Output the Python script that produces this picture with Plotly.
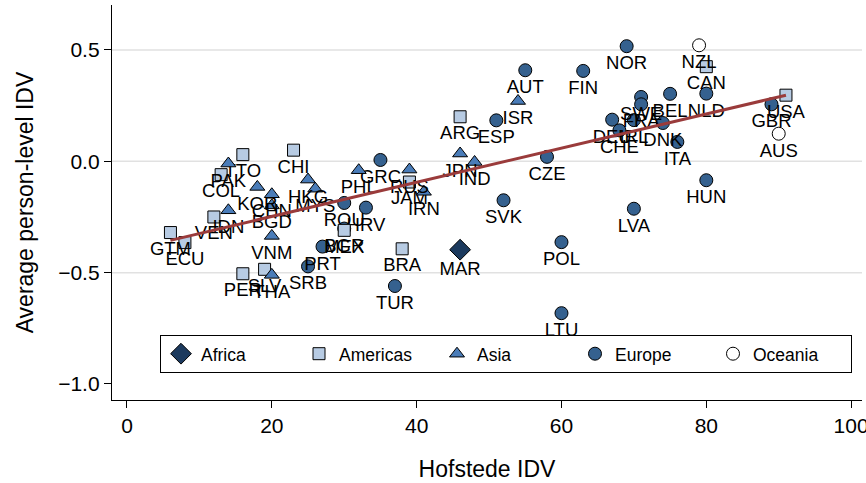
import plotly.graph_objects as go

# ---- data ----
africa_lbl = ["MAR"]
africa_x = [46]
africa_y = [-0.397]

americas_lbl = ["TTO", "CHI", "COL", "VEN", "GTM", "ECU", "PER", "SLV", "MEX", "JAM", "BRA", "ARG", "CAN", "USA"]
americas_x = [16, 23, 13, 12, 6, 8, 16, 19, 30, 39, 38, 46, 80, 91]
americas_y = [0.03, 0.05, -0.06, -0.25, -0.32, -0.365, -0.505, -0.485, -0.31, -0.093, -0.393, 0.20, 0.425, 0.297]

asia_lbl = ["PAK", "KOR", "CHN", "BGD", "IDN", "VNM", "THA", "HKG", "MYS", "PHL", "RUS", "IRN", "JPN", "IND", "ISR"]
asia_x = [14, 18, 20, 20, 14, 20, 20, 25, 26, 32, 39, 41, 46, 48, 54]
asia_y = [-0.01, -0.115, -0.148, -0.198, -0.22, -0.335, -0.51, -0.082, -0.123, -0.04, -0.037, -0.137, 0.035, -0.003, 0.271]

europe_lbl = ["SRB", "PRT", "BGR", "ROU", "HRV", "GRC", "TUR", "ESP", "AUT", "SVK", "CZE", "POL", "LTU", "FIN",
              "NOR", "LVA", "SWE", "FRA", "BEL", "NLD", "DEU", "IRL", "CHE", "DNK", "ITA", "HUN", "GBR"]
europe_x = [25, 27, 30, 30, 33, 35, 37, 51, 55, 52, 58, 60, 60, 63,
            69, 70, 71, 71, 75, 80, 67, 70, 68, 74, 76, 80, 89]
europe_y = [-0.472, -0.383, -0.302, -0.187, -0.208, 0.006, -0.56, 0.184, 0.409, -0.175, 0.02, -0.363, -0.682, 0.406,
            0.517, -0.213, 0.289, 0.256, 0.303, 0.304, 0.187, 0.185, 0.139, 0.172, 0.087, -0.085, 0.256]

oceania_lbl = ["NZL", "AUS"]
oceania_x = [79, 90]
oceania_y = [0.521, 0.124]

fit_x = [6, 91]
fit_y = [-0.355, 0.297]

grid_y = [-0.5, 0.0, 0.5]
y_ticks = [-1.0, -0.5, 0.0, 0.5]
x_ticks = [0, 20, 40, 60, 80, 100]

FONT = "Liberation Sans, Arial, sans-serif"
LBL_FONT = dict(family=FONT, size=18.5, color="black")

fig = go.Figure()

def add_group(name, xs, ys, lbls, symbol, fill, size, rank):
    fig.add_trace(go.Scatter(
        x=xs, y=ys, mode="markers+text", text=lbls, textposition="bottom center",
        textfont=LBL_FONT, name=name, legendrank=rank,
        marker=dict(symbol=symbol, color=fill, size=size, line=dict(color="black", width=1)),
    ))

add_group("Europe", europe_x, europe_y, europe_lbl, "circle", "#35618f", 13, 4)
add_group("Americas", americas_x, americas_y, americas_lbl, "square", "#b7cbe3", 12, 2)
add_group("Asia", asia_x, asia_y, asia_lbl, "triangle-up", "#4a7cb8", 13, 3)
add_group("Africa", africa_x, africa_y, africa_lbl, "diamond", "#1c3a5e", 16, 1)
add_group("Oceania", oceania_x, oceania_y, oceania_lbl, "circle", "white", 13, 5)

fig.add_trace(go.Scatter(x=fit_x, y=fit_y, mode="lines", showlegend=False,
                         line=dict(color="#9a3b3b", width=3), hoverinfo="skip"))

for gy in grid_y:
    fig.add_shape(type="line", xref="paper", x0=0, x1=1, yref="y", y0=gy, y1=gy,
                  line=dict(color="#e1e1e1", width=1.5), layer="below")

fig.update_layout(
    width=866, height=483,
    margin=dict(l=112, r=4, t=5, b=83, autoexpand=False),
    plot_bgcolor="white", paper_bgcolor="white",
    font=dict(family=FONT, size=18, color="black"),
    showlegend=True,
    legend=dict(
        orientation="h", x=0.064, xanchor="left", y=0.165, yanchor="top",
        bgcolor="white", bordercolor="black", borderwidth=1,
        font=dict(family=FONT, size=17.5, color="black"),
        entrywidth=93, entrywidthmode="pixels",
        itemclick=False, itemdoubleclick=False,
    ),
)

fig.update_xaxes(
    range=[-2.07, 101.5], tickvals=x_ticks, showgrid=False, zeroline=False, automargin=False,
    showline=True, linecolor="black", linewidth=1.3, ticks="outside", ticklen=7,
    tickcolor="black", tickfont=dict(family=FONT, size=21), ticklabeloverflow="allow",
    title=dict(text="Hofstede IDV", font=dict(family=FONT, size=23), standoff=24),
)
fig.update_yaxes(
    range=[-1.072, 0.702], tickvals=y_ticks, tickformat=".1f", showgrid=False, zeroline=False, automargin=False,
    showline=True, linecolor="black", linewidth=1.3, ticks="outside", ticklen=7,
    tickcolor="black", tickfont=dict(family=FONT, size=21),
    title=dict(text="Average person-level IDV", font=dict(family=FONT, size=23), standoff=18),
)

fig.write_html("out.html", config={"displayModeBar": False},
               post_script="document.body.style.margin='0px';document.body.style.overflow='hidden';")
